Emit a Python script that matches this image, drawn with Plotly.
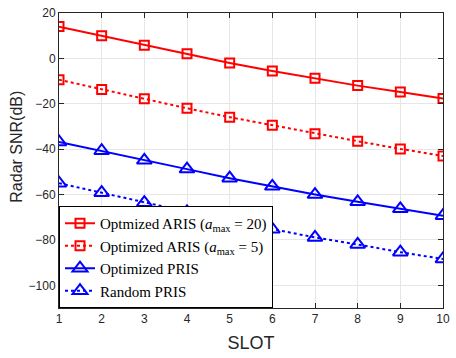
import plotly.graph_objects as go

slots = [1, 2, 3, 4, 5, 6, 7, 8, 9, 10]
aris20 = [14, 10, 5.8, 2, -2, -5.6, -8.8, -12, -14.8, -17.7]
aris5 = [-9.4, -13.7, -17.8, -22, -25.9, -29.5, -33.2, -36.5, -39.9, -43]
opt_pris = [-36.8, -40.7, -44.9, -48.8, -52.8, -56.4, -60, -63.2, -66.3, -69.3]
rand_pris = [-55, -59.2, -63.6, -67.6, -71.5, -75.3, -78.9, -82, -85.4, -88.4]

names = [
    "Optmized ARIS (<i>a</i><sub>max</sub> = 20)",
    "Optimized ARIS (<i>a</i><sub>max</sub> = 5)",
    "Optimized PRIS",
    "Random PRIS",
]

fig = go.Figure()
fig.add_trace(go.Scatter(x=slots, y=aris20, name=names[0], mode="lines+markers",
                         line=dict(color="red", width=2, dash="solid"),
                         marker=dict(symbol="square-open", size=9, color="red", line=dict(width=2))))
fig.add_trace(go.Scatter(x=slots, y=aris5, name=names[1], mode="lines+markers",
                         line=dict(color="red", width=2, dash="dot"),
                         marker=dict(symbol="square-open", size=9, color="red", line=dict(width=2))))
fig.add_trace(go.Scatter(x=slots, y=opt_pris, name=names[2], mode="lines+markers",
                         line=dict(color="blue", width=2, dash="solid"),
                         marker=dict(symbol="triangle-up-open", size=13, color="blue", line=dict(width=2))))
fig.add_trace(go.Scatter(x=slots, y=rand_pris, name=names[3], mode="lines+markers",
                         line=dict(color="blue", width=2, dash="dot"),
                         marker=dict(symbol="triangle-up-open", size=13, color="blue", line=dict(width=2))))

axis_common = dict(showgrid=True, gridcolor="#e6e6e6", gridwidth=1, showline=True, linecolor="#262626",
                   linewidth=1, mirror="ticks", ticks="inside", ticklen=5, tickcolor="#262626",
                   tickfont=dict(family="Liberation Sans, Arial", size=12, color="#262626"), zeroline=False)

fig.update_xaxes(range=[1, 10], tickvals=slots, title=dict(text="SLOT", standoff=10,
                 font=dict(family="Liberation Sans, Arial", size=18, color="#262626")), **axis_common)
fig.update_yaxes(range=[-110, 20], tickvals=[20, 0, -20, -40, -60, -80, -100], **axis_common)

fig.add_annotation(text="Radar SNR(dB)", xref="paper", yref="paper", x=-0.110, y=0.546,
                   xanchor="center", yanchor="middle", textangle=-90, showarrow=False,
                   font=dict(family="Liberation Sans, Arial", size=16, color="#262626"))

fig.update_layout(
    width=456, height=358,
    margin=dict(l=59, r=7, t=6, b=50),
    paper_bgcolor="white", plot_bgcolor="white",
    showlegend=True,
    legend=dict(x=0, y=0, xanchor="left", yanchor="bottom", bgcolor="white",
                bordercolor="black", borderwidth=1, itemwidth=30, tracegroupgap=0,
                font=dict(family="Liberation Serif, Times New Roman", size=15, color="black")),
)

fig.write_html("out.html")
